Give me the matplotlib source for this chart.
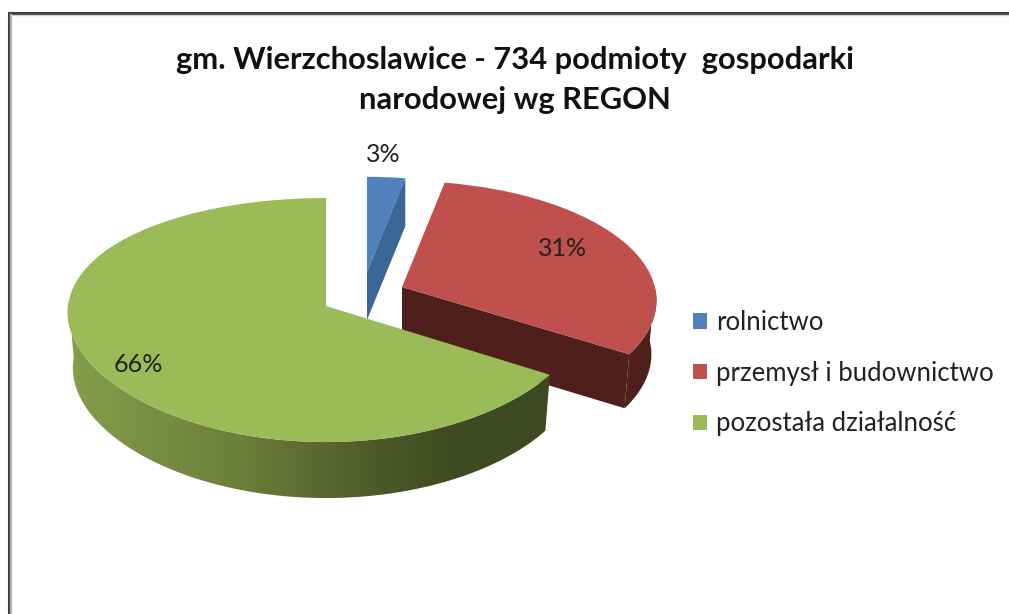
import numpy as np
import matplotlib
matplotlib.use('Agg')
import matplotlib.pyplot as plt
from matplotlib.colors import LinearSegmentedColormap
from matplotlib.patches import Polygon
from matplotlib.transforms import Transform

# Chart data
title = 'gm. Wierzchoslawice - 734 podmioty  gospodarki\nnarodowej wg REGON'
categories = ['rolnictwo', 'przemysł i budownictwo', 'pozostała działalność']
shares = [3, 31, 66]

# Slice styling and where each exploded slice sits on the page (pixels)
top_colors = ['#4f81bd', '#c0504d', '#9bbb59']
wall_colors = ['#3a6796', '#4e1f1b', None]
apexes = [(367, 272), (402, 287), (326, 306)]
sizes = [0.87, 0.98, 1.0]
tapers = [0.115, 0.115, 0.05]
depths = [48, 54, 56]
label_pos = [(383, 154), (563, 249), (138, 364)]


class Tilt(Transform):
    # Turns flat pie coordinates into the tilted view, near side bigger
    input_dims = 2
    output_dims = 2

    def __init__(self, apex, size, taper):
        super().__init__()
        self.apex = apex
        self.size = size
        self.taper = taper

    def transform_non_affine(self, values):
        values = np.asarray(values, dtype=float)
        u, w = values[:, 0] * self.size, values[:, 1] * self.size
        return np.column_stack([self.apex[0] + 258 * u / (1 + self.taper * w),
                                self.apex[1] - 120.4 * w / (1 + 0.115 * w)])


def arc(tilt, start, stop):
    # Points along the rim, angles clockwise from 12 o'clock in degrees
    th = np.radians(np.linspace(start, stop, 80))
    return tilt.transform(np.column_stack([np.sin(th), np.cos(th)]))


def drop(points, apex, depth):
    # Same points on the bottom face of the slice
    low = points.copy()
    low[:, 0] = apex[0] + (low[:, 0] - apex[0]) * 0.98
    low[:, 1] += depth
    return low


fig = plt.figure(figsize=(10.09, 6.14), dpi=100)
ax = fig.add_axes([0, 0, 1, 1])
plt.rcParams['font.family'] = 'Lato'

edges = np.concatenate([[0], np.cumsum(shares) / np.sum(shares) * 360])
wedges, _ = ax.pie(shares, colors=top_colors, startangle=90, counterclock=False,
                   wedgeprops={'linewidth': 0})
ax.set_aspect('auto')
ax.set_xlim(0, 1009)
ax.set_ylim(614, 0)
ax.set_axis_off()

tilts = [Tilt(apexes[i], sizes[i], tapers[i]) for i in range(3)]
for i, wedge in enumerate(wedges):
    wedge.set_transform(tilts[i] + ax.transData)
    wedge.set_zorder(4 + i * 2)

# Blue slice: only the cut face shows
apex = np.array([apexes[0]], dtype=float)
rim = arc(tilts[0], edges[1], edges[1])[:1]
cut = np.vstack([apex, rim, rim + [0, depths[0]], apex + [0, depths[0]]])
ax.add_patch(Polygon(cut, closed=True, fc=wall_colors[0], lw=0, zorder=5))

# Red slice: rim from the right edge round to the end, plus the cut face
rim = arc(tilts[1], 90, edges[2])
apex = np.array([apexes[1]], dtype=float)
low = drop(rim, apexes[1], depths[1])
ax.add_patch(Polygon(np.vstack([rim, low[::-1]]), closed=True, fc=wall_colors[1], lw=0, zorder=5))
cut = np.vstack([apex, rim[-1:], low[-1:], apex + [0, depths[1]]])
ax.add_patch(Polygon(cut, closed=True, fc=wall_colors[1], lw=0, zorder=5))

# Green slice: rim wall fades from olive on the left to dark on the right
rim = arc(tilts[2], edges[2], 272)
low = drop(rim, apexes[2], depths[2])
wall = Polygon(np.vstack([rim, low[::-1]]), closed=True, fc='none', lw=0,
               transform=ax.transData)
ax.add_patch(wall)
fade = LinearSegmentedColormap.from_list('fade', [(0, '#86a04b'), (0.37, '#6b7e3a'), (0.65, '#4c5929'),
                                                  (0.8, '#3f4b20'), (1, '#3d4920')])
img = ax.imshow(np.linspace(0, 1, 256)[None, :], cmap=fade, aspect='auto',
                extent=[60, 550, 510, 300], zorder=7)
img.set_clip_path(wall)
ax.set_xlim(0, 1009)
ax.set_ylim(614, 0)

# Frame along the top and left edges
ax.plot([9, 9, 1009], [614, 12.5, 12.5], color='#404040', lw=2.2, solid_joinstyle='miter', zorder=10)
ax.plot([11, 11], [614, 14.5], color='#b0b0b0', lw=1.6, zorder=10)
ax.plot([11, 1009], [14.5, 14.5], color='#d0d0d0', lw=1, zorder=10)

ax.text(515, 80, title, ha='center', va='center', fontsize=22.2, fontweight='bold',
        color='#111111', linespacing=1.52, zorder=12)

for i, pos in enumerate(label_pos):
    ax.text(pos[0], pos[1], f'{shares[i]}%', ha='center', va='center', fontsize=18,
            color='#222222', zorder=12)

ax.legend(wedges, categories, loc='upper left', bbox_to_anchor=(0.687, 0.495), frameon=False,
          fontsize=18.5, handlelength=0.55, handleheight=0.55, handletextpad=0.35,
          labelspacing=1.0, labelcolor='#222222', borderpad=0, borderaxespad=0)

fig.savefig('out.png', dpi=100)
